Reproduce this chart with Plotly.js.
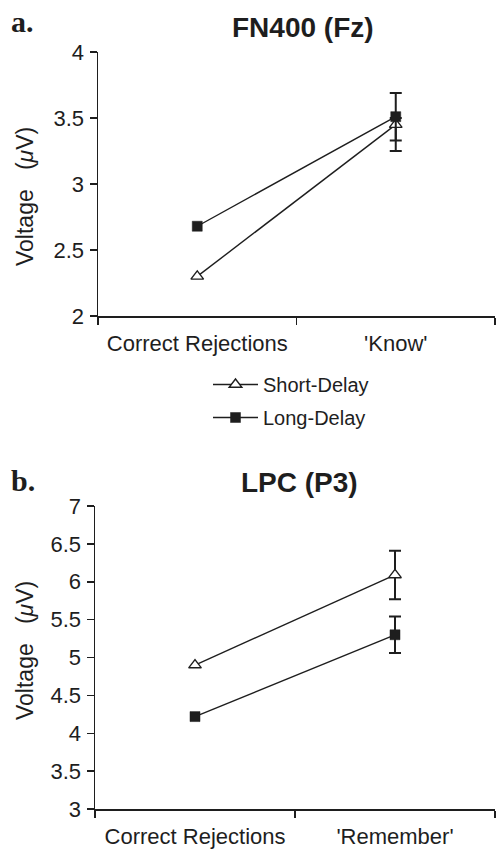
<!DOCTYPE html>
<html>
<head>
<meta charset="utf-8">
<script src="https://cdn.plot.ly/plotly-3.0.1.min.js"></script>
<style>html,body{margin:0;padding:0;background:#fff;}#chart{width:499px;height:849px;}</style>
</head>
<body>
<div id="chart"></div>
<script>
// Panel a: FN400 (Fz)
const categoriesA = ["Correct Rejections", "'Know'"];
const shortA = [2.30, 3.45];
const longA = [2.68, 3.51];
const shortAErrPlus = [null, 0.05];
const shortAErrMinus = [null, 0.20];
const longAErr = [null, 0.18];

// Panel b: LPC (P3)
const categoriesB = ["Correct Rejections", "'Remember'"];
const shortB = [4.90, 6.09];
const longB = [4.22, 5.30];
const shortBErr = [null, 0.32];
const longBErr = [null, 0.24];

const seriesNames = ["Short-Delay", "Long-Delay"];
const titleA = "FN400 (Fz)";
const titleB = "LPC (P3)";
const yTitle = "Voltage\u00a0\u00a0\u00a0(<i>\u03bc</i>V)";

const ink = "#1e1e1e";
const font = "Liberation Sans, Arial, sans-serif";

const shortMarker = {symbol: "triangle-up", size: 11, color: "#ffffff", line: {color: ink, width: 1.4}};
const longMarker = {symbol: "square", size: 10, color: ink, line: {color: ink, width: 0.5}};
const lineStyle = {color: ink, width: 1.4};
const nanify = a => a.map(v => v == null ? NaN : v);

const traces = [
  {x: categoriesA, y: shortA, name: seriesNames[0], type: "scatter", mode: "lines+markers",
   marker: shortMarker, line: lineStyle, xaxis: "x", yaxis: "y", legendgroup: "s",
   error_y: {type: "data", symmetric: false, array: nanify(shortAErrPlus),
     arrayminus: nanify(shortAErrMinus), color: ink, thickness: 2, width: 6}},
  {x: categoriesA, y: longA, name: seriesNames[1], type: "scatter", mode: "lines+markers",
   marker: longMarker, line: lineStyle, xaxis: "x", yaxis: "y", legendgroup: "l",
   error_y: {type: "data", array: nanify(longAErr), color: ink, thickness: 2, width: 6}},
  {x: categoriesB, y: shortB, name: seriesNames[0], type: "scatter", mode: "lines+markers",
   marker: shortMarker, line: lineStyle, xaxis: "x2", yaxis: "y2", showlegend: false,
   error_y: {type: "data", array: nanify(shortBErr), color: ink, thickness: 2, width: 6}},
  {x: categoriesB, y: longB, name: seriesNames[1], type: "scatter", mode: "lines+markers",
   marker: longMarker, line: lineStyle, xaxis: "x2", yaxis: "y2", showlegend: false,
   error_y: {type: "data", array: nanify(longBErr), color: ink, thickness: 2, width: 6}}
];

const W = 499, H = 849;
const px = v => v / W;
const py = v => (H - v) / H;

const xCommon = {type: "category", range: [-0.5, 1.5], tickson: "boundaries", ticks: "outside",
  ticklen: 7, tickwidth: 1.5, tickcolor: ink, showline: true, linecolor: ink, linewidth: 1.5,
  showgrid: false, zeroline: false, tickfont: {family: font, size: 22, color: ink},
  ticklabelstandoff: 7, fixedrange: true};
const yCommon = {dtick: 0.5, ticks: "outside", ticklen: 7, tickwidth: 1.5, tickcolor: ink,
  showline: true, linecolor: ink, linewidth: 1.5, showgrid: false, zeroline: false,
  tickfont: {family: font, size: 22, color: ink}, ticklabelstandoff: 1, fixedrange: true};

const layout = {
  width: W, height: H,
  margin: {l: 0, r: 0, t: 0, b: 0},
  paper_bgcolor: "#ffffff", plot_bgcolor: "#ffffff",
  showlegend: true,
  legend: {x: px(208), y: py(365), xanchor: "left", yanchor: "top", bgcolor: "rgba(0,0,0,0)",
    font: {family: font, size: 20, color: ink}, tracegroupgap: 4, itemwidth: 45},
  xaxis: Object.assign({}, xCommon, {domain: [px(98), px(495)], anchor: "y"}),
  yaxis: Object.assign({}, yCommon, {domain: [py(316), py(52)], range: [2, 4], anchor: "x"}),
  xaxis2: Object.assign({}, xCommon, {domain: [px(95), px(495)], anchor: "y2"}),
  yaxis2: Object.assign({}, yCommon, {domain: [py(809), py(506)], range: [3, 7], anchor: "x2"}),
  annotations: [
    {text: "<b>" + titleA + "</b>", x: px(303), y: py(27), xref: "paper", yref: "paper",
     showarrow: false, xanchor: "center", yanchor: "middle", font: {family: font, size: 28, color: ink}},
    {text: "<b>" + titleB + "</b>", x: px(299), y: py(482), xref: "paper", yref: "paper",
     showarrow: false, xanchor: "center", yanchor: "middle", font: {family: font, size: 28, color: ink}},
    {text: "<b>a.</b>", x: px(22), y: py(22), xref: "paper", yref: "paper", showarrow: false,
     xanchor: "center", yanchor: "middle", font: {family: "Liberation Serif, Times New Roman, serif", size: 30, color: ink}},
    {text: "<b>b.</b>", x: px(23), y: py(480), xref: "paper", yref: "paper", showarrow: false,
     xanchor: "center", yanchor: "middle", font: {family: "Liberation Serif, Times New Roman, serif", size: 30, color: ink}},
    {text: yTitle, x: px(25), y: py(197), xref: "paper", yref: "paper", showarrow: false, textangle: -90,
     xanchor: "center", yanchor: "middle", font: {family: font, size: 23, color: ink}},
    {text: yTitle, x: px(25), y: py(651), xref: "paper", yref: "paper", showarrow: false, textangle: -90,
     xanchor: "center", yanchor: "middle", font: {family: font, size: 23, color: ink}}
  ]
};

Plotly.newPlot("chart", traces, layout, {displayModeBar: false, staticPlot: true});
</script>
</body>
</html>
